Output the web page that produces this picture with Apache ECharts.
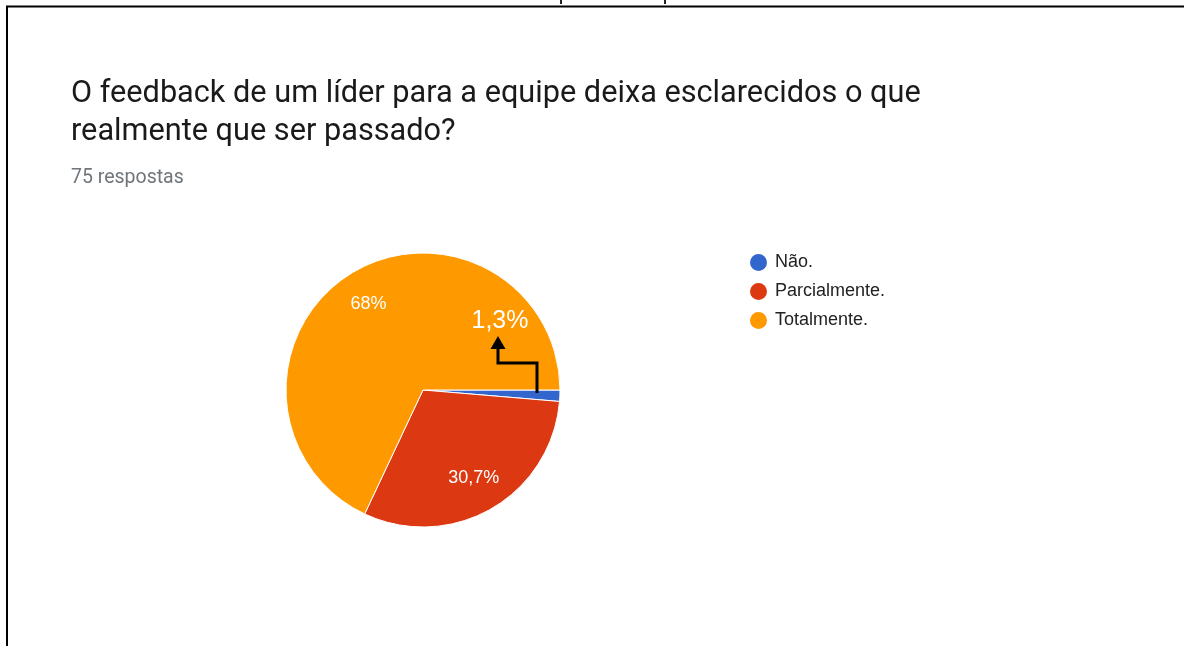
<!DOCTYPE html>
<html>
<head>
<meta charset="utf-8">
<script src="https://cdn.jsdelivr.net/npm/echarts@6/dist/echarts.min.js"></script>
<style>
  html, body { margin: 0; padding: 0; background: #fff; }
  #chart { width: 1184px; height: 646px; }
</style>
</head>
<body>
<div id="chart"></div>
<script>
// dados do gráfico
const categories = ['Não.', 'Parcialmente.', 'Totalmente.']
const counts = [1, 23, 51]
const colors = ['#3366cc', '#dc3912', '#ff9900']
const totalRespostas = 75

const titulo = 'O feedback de um líder para a equipe deixa esclarecidos o que\nrealmente que ser passado?'
const subtitulo = totalRespostas + ' respostas'

// posição da pizza
const CX = 423
const CY = 390
const R = 137

// anotação "1,3%" com a seta (relativa ao centro)
const noteLabel = [77, -69]
const arrowLine = [[114, 3], [114, -27], [75, -27], [75, -42]]
const arrowHead = [[75, -54], [67.5, -41], [82.5, -41]]

const rel = (p) => [CX + p[0], CY + p[1]]

// formata percentual no padrão pt-BR
function pct (v) {
  const n = Math.round(v / totalRespostas * 1000) / 10
  return String(n).replace('.', ',') + '%'
}

const chart = echarts.init(document.getElementById('chart'))

chart.setOption({
  backgroundColor: '#fff',
  animation: false,
  color: colors,
  title: {
    text: titulo,
    subtext: subtitulo,
    left: 71,
    top: 75,
    itemGap: 15,
    padding: 0,
    textStyle: {
      fontFamily: 'Roboto',
      fontSize: 30.7,
      fontWeight: 'normal',
      color: '#1a1a1a',
      lineHeight: 38
    },
    subtextStyle: {
      fontFamily: 'Roboto',
      fontSize: 19.5,
      color: '#70757a',
      lineHeight: 24
    }
  },
  legend: {
    orient: 'vertical',
    left: 748,
    top: 252,
    padding: 0,
    icon: 'circle',
    itemWidth: 19,
    itemHeight: 19,
    itemGap: 8,
    data: categories,
    textStyle: {
      fontFamily: 'Liberation Sans',
      fontSize: 18,
      color: '#222',
      padding: [0, 0, 0, 2]
    }
  },
  series: [{
    type: 'pie',
    center: [CX, CY],
    radius: [0, R],
    startAngle: 0,
    clockwise: true,
    silent: true,
    itemStyle: { borderColor: '#fff', borderWidth: 1 },
    label: {
      show: true,
      position: 'inside',
      color: '#fff',
      fontFamily: 'Liberation Sans',
      fontSize: 18,
      formatter: (p) => pct(p.value)
    },
    labelLine: { show: false },
    labelLayout: function (params) {
      const r = params.labelRect
      if (params.dataIndex === 0) {
        const p = rel(noteLabel)
        return { x: p[0], y: p[1], fontSize: 25 }
      }
      const lx = r.x + r.width / 2
      const ly = r.y + r.height / 2
      const k = 1.42
      return { x: CX + (lx - CX) * k, y: CY + (ly - CY) * k }
    },
    data: categories.map((name, i) => ({ name, value: counts[i] }))
  }],
  graphic: [
    // moldura da captura
    { type: 'line', shape: { x1: 6, y1: 6.5, x2: 1184, y2: 6.5 }, style: { stroke: '#000', lineWidth: 2 } },
    { type: 'line', shape: { x1: 7, y1: 6, x2: 7, y2: 646 }, style: { stroke: '#000', lineWidth: 2 } },
    { type: 'rect', shape: { x: 560, y: 0, width: 2, height: 4 }, style: { fill: '#222' } },
    { type: 'rect', shape: { x: 664, y: 0, width: 2, height: 4 }, style: { fill: '#222' } },
    // seta da anotação
    {
      type: 'polyline',
      z: 100,
      shape: { points: arrowLine.map(rel) },
      style: { stroke: '#000', lineWidth: 3, fill: null }
    },
    {
      type: 'polygon',
      z: 100,
      shape: { points: arrowHead.map(rel) },
      style: { fill: '#000' }
    }
  ]
})
</script>
</body>
</html>
